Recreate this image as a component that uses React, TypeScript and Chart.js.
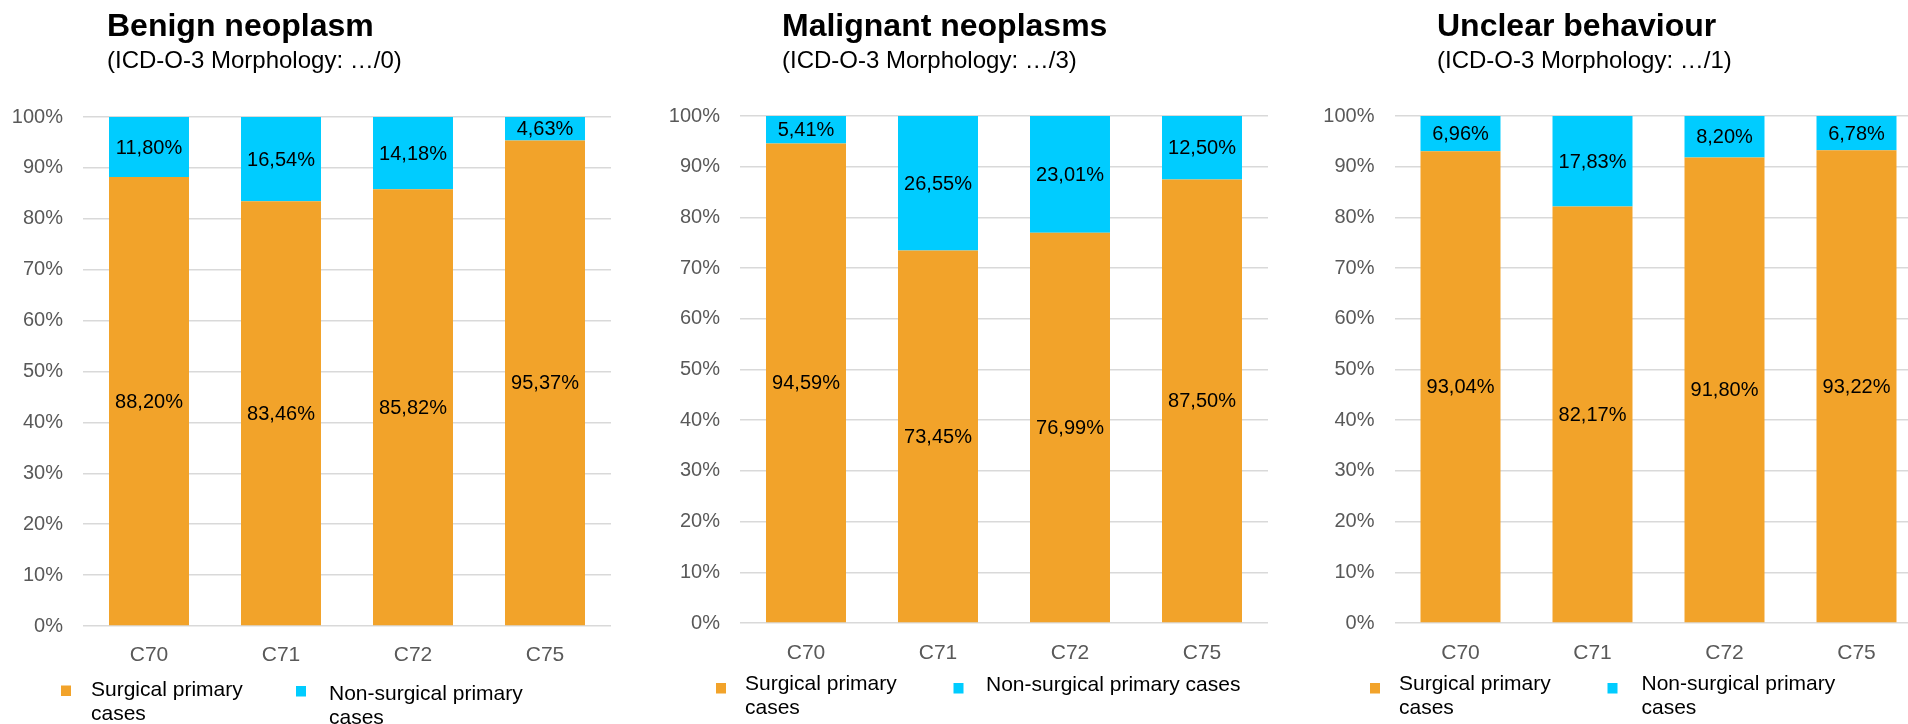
import React, { useEffect, useRef } from "react";
import { Chart, registerables } from "chart.js";

Chart.register(...registerables);

// ---------- data ----------
const categories = ["C70", "C71", "C72", "C75"];
const seriesNames = ["Surgical primary cases", "Non-surgical primary cases"];
const yTickValues = [0, 10, 20, 30, 40, 50, 60, 70, 80, 90, 100];

const titles = ["Benign neoplasm", "Malignant neoplasms", "Unclear behaviour"];
const subtitles = [
  "(ICD-O-3 Morphology: …/0)",
  "(ICD-O-3 Morphology: …/3)",
  "(ICD-O-3 Morphology: …/1)",
];

const benignSurgical = [88.2, 83.46, 85.82, 95.37];
const benignNonSurgical = [11.8, 16.54, 14.18, 4.63];
const malignantSurgical = [94.59, 73.45, 76.99, 87.5];
const malignantNonSurgical = [5.41, 26.55, 23.01, 12.5];
const unclearSurgical = [93.04, 82.17, 91.8, 93.22];
const unclearNonSurgical = [6.96, 17.83, 8.2, 6.78];

// ---------- styles ----------
const FONT = "'Liberation Sans', Arial, Helvetica, sans-serif";
const ORANGE = "#F2A32A";
const BLUE = "#00CCFF";
const GRID = "#D9D9D9";
const TICK = "#595959";
const H = 724;
const CANVAS_W = 640;
const PLOT_W = 528;
const X_AXIS_H = 40;

type LegendItemLayout = { sqX: number; sqY: number; textX: number; baseY: number; maxW: number };
type PanelLayout = {
  pageLeft: number;
  areaLeft: number;
  areaTop: number;
  areaBottom: number;
  titleX: number;
  xTickPad: number;
  legend: LegendItemLayout[];
};

const layouts: PanelLayout[] = [
  {
    pageLeft: 0,
    areaLeft: 83,
    areaTop: 117,
    areaBottom: 626,
    titleX: 107,
    xTickPad: 9,
    legend: [
      { sqX: 61, sqY: 685.5, textX: 91, baseY: 695.5, maxW: 200 },
      { sqX: 296, sqY: 686, textX: 329, baseY: 700, maxW: 220 },
    ],
  },
  {
    pageLeft: 640,
    areaLeft: 100,
    areaTop: 116,
    areaBottom: 623,
    titleX: 142,
    xTickPad: 10,
    legend: [
      { sqX: 76, sqY: 683, textX: 105, baseY: 690, maxW: 200 },
      { sqX: 313.5, sqY: 683, textX: 346, baseY: 691, maxW: 300 },
    ],
  },
  {
    pageLeft: 1290,
    areaLeft: 104.5,
    areaTop: 116,
    areaBottom: 623,
    titleX: 147,
    xTickPad: 10,
    legend: [
      { sqX: 80, sqY: 683, textX: 109, baseY: 689.5, maxW: 200 },
      { sqX: 317.5, sqY: 683, textX: 351.5, baseY: 690, maxW: 220 },
    ],
  },
];

const panelData = [
  { surgical: benignSurgical, nonSurgical: benignNonSurgical },
  { surgical: malignantSurgical, nonSurgical: malignantNonSurgical },
  { surgical: unclearSurgical, nonSurgical: unclearNonSurgical },
];

function fmt(v: number): string {
  return v.toFixed(2).replace(".", ",") + "%";
}

function wrapText(ctx: CanvasRenderingContext2D, text: string, maxW: number): string[] {
  const words = text.split(" ");
  const lines: string[] = [];
  let cur = "";
  for (const w of words) {
    const test = cur ? cur + " " + w : w;
    if (cur && ctx.measureText(test).width > maxW) {
      lines.push(cur);
      cur = w;
    } else {
      cur = test;
    }
  }
  if (cur) lines.push(cur);
  return lines;
}

const valueLabels = {
  id: "valueLabels",
  afterDatasetsDraw(chart: any) {
    const ctx: CanvasRenderingContext2D = chart.ctx;
    ctx.save();
    ctx.font = `20px ${FONT}`;
    ctx.fillStyle = "#000000";
    ctx.textAlign = "center";
    ctx.textBaseline = "middle";
    chart.data.datasets.forEach((ds: any, i: number) => {
      const meta = chart.getDatasetMeta(i);
      meta.data.forEach((el: any, j: number) => {
        const v = ds.data[j] as number;
        const y = (el.y + el.base) / 2 + 1;
        ctx.fillText(fmt(v), el.x, y);
      });
    });
    ctx.restore();
  },
};

function makePanelText(idx: number) {
  const lay = layouts[idx];
  return {
    id: "panelText" + idx,
    afterDraw(chart: any) {
      const ctx: CanvasRenderingContext2D = chart.ctx;
      ctx.save();
      ctx.fillStyle = "#000000";
      ctx.textAlign = "left";
      ctx.textBaseline = "alphabetic";
      ctx.font = `bold 32px ${FONT}`;
      ctx.fillText(titles[idx], lay.titleX, 36);
      ctx.font = `24px ${FONT}`;
      ctx.fillText(subtitles[idx], lay.titleX, 68);

      ctx.font = `21px ${FONT}`;
      chart.data.datasets.forEach((ds: any, i: number) => {
        const L = lay.legend[i];
        ctx.fillStyle = ds.backgroundColor;
        ctx.fillRect(L.sqX, L.sqY, 10, 10.5);
        ctx.fillStyle = "#000000";
        const lines = wrapText(ctx, ds.label, L.maxW);
        lines.forEach((ln, k) => ctx.fillText(ln, L.textX, L.baseY + k * 24));
      });
      ctx.restore();
    },
  };
}

function Panel({ idx }: { idx: number }) {
  const ref = useRef<HTMLCanvasElement>(null);
  const lay = layouts[idx];
  useEffect(() => {
    const d = panelData[idx];
    const chart = new Chart(ref.current as HTMLCanvasElement, {
      type: "bar",
      data: {
        labels: categories,
        datasets: [
          {
            label: seriesNames[0],
            data: d.surgical,
            backgroundColor: ORANGE,
            categoryPercentage: 1,
            barPercentage: 0.606,
          },
          {
            label: seriesNames[1],
            data: d.nonSurgical,
            backgroundColor: BLUE,
            categoryPercentage: 1,
            barPercentage: 0.606,
          },
        ],
      },
      options: {
        responsive: false,
        animation: false,
        devicePixelRatio: 1,
        layout: {
          padding: {
            left: 0,
            top: lay.areaTop,
            right: CANVAS_W - lay.areaLeft - PLOT_W,
            bottom: H - lay.areaBottom - X_AXIS_H,
          },
        },
        plugins: {
          legend: { display: false },
          title: { display: false },
          tooltip: { enabled: false },
        },
        scales: {
          x: {
            stacked: true,
            grid: { display: false },
            border: { display: false },
            ticks: {
              color: TICK,
              font: { family: FONT, size: 21 },
              padding: lay.xTickPad,
            },
            afterFit: (a: any) => {
              a.height = X_AXIS_H;
            },
          },
          y: {
            stacked: true,
            min: 0,
            max: 100,
            afterBuildTicks: (a: any) => {
              a.ticks = yTickValues.map((v) => ({ value: v }));
            },
            ticks: {
              color: TICK,
              font: { family: FONT, size: 20 },
              padding: 20,
              callback: (v: any) => v + "%",
            },
            grid: { color: GRID, lineWidth: 1.5, drawTicks: false },
            border: { display: false },
            afterFit: (a: any) => {
              a.width = lay.areaLeft;
            },
          },
        },
      } as any,
      plugins: [valueLabels, makePanelText(idx)],
    });
    return () => chart.destroy();
  }, [idx]);
  return (
    <canvas
      ref={ref}
      width={CANVAS_W}
      height={H}
      style={{ position: "absolute", left: lay.pageLeft, top: 0, width: CANVAS_W, height: H }}
    />
  );
}

export default function App() {
  return (
    <div
      style={{
        position: "absolute",
        left: 0,
        top: 0,
        width: 1908,
        height: H,
        overflow: "hidden",
        background: "#ffffff",
      }}
    >
      <Panel idx={0} />
      <Panel idx={1} />
      <Panel idx={2} />
    </div>
  );
}
